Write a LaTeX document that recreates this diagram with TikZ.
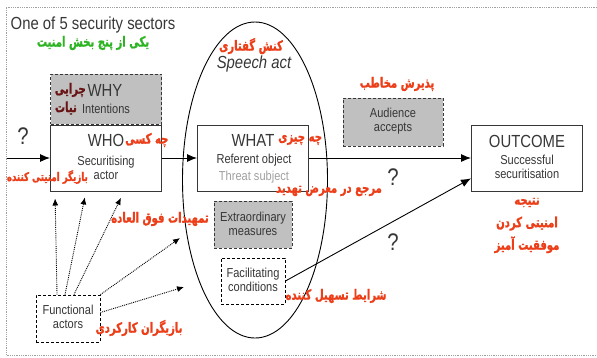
\documentclass[tikz,border=0pt]{standalone}
\usepackage{fontspec}
\setmainfont{Liberation Sans}[FakeStretch=0.85]
\newfontfamily\farsi{DejaVu Sans}[Script=Arabic,FakeStretch=0.72,BoldFeatures={FakeBold=1.2}]
\TeXXeTstate=1
\usetikzlibrary{shapes.geometric,arrows.meta}
\definecolor{naranjito}{RGB}{235,62,25}
\definecolor{verdecito}{RGB}{45,180,35}
\definecolor{granate}{RGB}{105,20,20}
\definecolor{grisito}{RGB}{192,192,192}
\definecolor{grisoscuro}{RGB}{55,55,55}
\definecolor{grisclaro}{RGB}{160,160,160}
\newcommand{\fa}[1]{{\farsi\bfseries\beginR #1\endR}}
\tikzset{>={Latex[length=10pt,width=8pt]},
	caja/.style={draw=grisoscuro, line width=1pt, fill=white, minimum width=111pt, minimum height=66pt, inner sep=0pt},
	cajagris/.style={draw=grisoscuro, densely dashed, line width=0.9pt, fill=grisito, inner sep=0pt},
	cajapunteada/.style={draw=black, densely dashed, line width=0.9pt, fill=white, inner sep=0pt},
	rotulo/.style={font=\fontsize{13}{15}\selectfont, text=grisoscuro, inner sep=0pt},
	titulo/.style={font=\fontsize{17.5}{19}\selectfont, text=grisoscuro, inner sep=0pt},
	persa/.style={font=\fontsize{14}{16}\selectfont, text=naranjito, inner sep=0pt},
	pregunta/.style={font=\fontsize{24}{26}\selectfont, text=grisoscuro, inner sep=0pt},
	puntos/.style={->, densely dotted, line width=0.9pt, >={Latex[length=7pt,width=6pt]}}}
\begin{document}
\begin{tikzpicture}[x=1pt,y=-1pt]
	\useasboundingbox (0,0) rectangle (597,357);
	
	% marco del sector
	\draw[grisclaro, densely dotted, line width=0.8pt] (597,7) -- (6,7) -- (6,355) -- (597,355);
	\node[titulo] (sector) at (93,25) {One of 5 security sectors};
	\node[persa, text=verdecito] (sectorfa) at (93,43) {\fa{یکی از پنج بخش امنیت}};
	
	% acto de habla
	\node[draw, ellipse, line width=0.9pt, minimum width=145pt, minimum height=316pt] (speech) at (255,180) {};
	\node[persa] (speechfa) at (251,46) {\fa{کنش گفتاری}};
	\node[titulo, font=\fontsize{17.5}{19}\selectfont\itshape] (speechen) at (254,64) {Speech act};
	
	% cajas
	\node[cajagris, minimum width=111pt, minimum height=50pt] (why) at (106,99) {};
	\node[caja] (who) at (106,158) {};
	\node[caja] (what) at (253,158) {};
	\node[caja] (outcome) at (527,158) {};
	\node[cajagris, minimum width=100pt, minimum height=48pt] (audience) at (393,122) {};
	\node[cajagris, minimum width=78pt, minimum height=47pt] (extra) at (253,224.5) {};
	\node[cajapunteada, minimum width=64pt, minimum height=46pt] (fac) at (253,281) {};
	\node[cajapunteada, minimum width=64pt, minimum height=47pt] (func) at (68,318.5) {};
	
	% textos de las cajas
	\node[titulo] (whyt) at (105,90) {WHY};
	\node[rotulo] (whys) at (106,109) {Intentions};
	\node[persa, text=granate, anchor=east] (whyfa) at (86,90) {\fa{چرایی}};
	\node[persa, text=granate, anchor=east] (whysfa) at (77,108) {\fa{نیات}};
	
	\node[titulo] (whot) at (106,140) {WHO};
	\node[rotulo] (whos) at (106,169) {\begin{tabular}{@{}c@{}}Securitising\\[-1pt] actor\end{tabular}};
	\node[persa, anchor=west] (whofa) at (125,140) {\fa{چه کسی}};
	\node[persa, anchor=east, font=\fontsize{12}{14}\selectfont] (whosfa) at (88,177) {\fa{بازیگر امنیتی کننده}};
	
	\node[titulo] (whatt) at (253,140) {WHAT};
	\node[rotulo] (whats) at (254,160) {Referent object};
	\node[rotulo, text=grisclaro] (whatss) at (254,177) {Threat subject};
	\node[persa, anchor=west] (whatfa) at (278,140) {\fa{چه چیزی}};
	\node[persa] (whatsfa) at (329,191) {\fa{مرجع در معرض تهدید}};
	
	\node[rotulo] (auds) at (393,121.5) {\begin{tabular}{@{}c@{}}Audience\\[-1pt] accepts\end{tabular}};
	\node[persa] (audfa) at (397,84) {\fa{پذیرش مخاطب}};
	
	\node[titulo] (outt) at (527,141) {OUTCOME};
	\node[rotulo] (outs) at (527,168.5) {\begin{tabular}{@{}c@{}}Successful\\[-1pt] securitisation\end{tabular}};
	\node[persa, align=center, font=\fontsize{14}{22.5}\selectfont] (outfa) at (527,225.5) {\fa{نتیجه}\\\fa{امنیتی کردن}\\\fa{موفقیت آمیز}};
	
	\node[rotulo] (extras) at (253,225) {\begin{tabular}{@{}c@{}}Extraordinary\\[-1pt] measures\end{tabular}};
	\node[persa] (extrafa) at (160,219) {\fa{تمهیدات فوق العاده}};
	
	\node[rotulo] (facs) at (253,281.5) {\begin{tabular}{@{}c@{}}Facilitating\\[-1pt] conditions\end{tabular}};
	\node[persa] (facfa) at (336,296) {\fa{شرایط تسهیل کننده}};
	
	\node[rotulo] (funcs) at (68,318) {\begin{tabular}{@{}c@{}}Functional\\[-1pt] actors\end{tabular}};
	\node[persa] (funcfa) at (139,328) {\fa{بازیگران کارکردی}};
	
	% preguntas
	\node[pregunta] (q1) at (23,136) {?};
	\node[pregunta] (q2) at (393,177) {?};
	\node[pregunta] (q3) at (393,242) {?};
	
	% flechas
	\coordinate (entrada) at (7,158);
	\draw[->, line width=0.9pt] (entrada) -- (who.west);
	\draw[->, line width=0.9pt] (who.east) -- (what.west);
	\draw[->, line width=0.9pt] (what.east) -- (outcome.west);
	\draw[->, line width=0.9pt] (fac.east) -- (outcome.200);
	
	\coordinate (m1) at (180,238);
	\coordinate (m2) at (184,287);
	\draw[puntos, shorten >=7pt] ([xshift=-11pt]func.north) -- ([xshift=5pt]who.south west);
	\draw[puntos, shorten >=6pt] ([xshift=-3pt]func.north) -- ([xshift=-20pt]who.south);
	\draw[puntos, shorten >=7pt] ([xshift=6pt]func.north) -- ([xshift=18pt]who.south);
	\draw[puntos] (func.north east) -- (m1);
	\draw[puntos] ([yshift=6pt]func.east) -- (m2);
	
\end{tikzpicture}
\end{document}
